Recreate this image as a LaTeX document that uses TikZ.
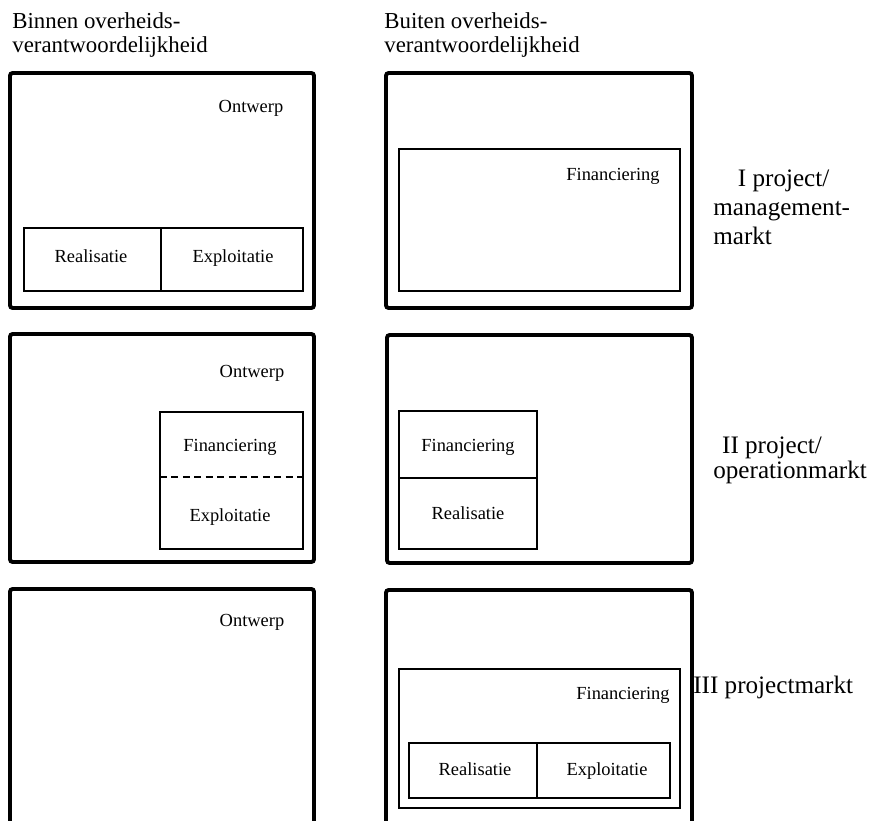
\documentclass[tikz,border=0pt]{standalone}
\usepackage{fontspec}
\setmainfont{Liberation Serif}
\begin{document}
\begin{tikzpicture}[x=0.02cm,y=-0.02cm,
  outer/.style={line width=2.2pt,rounded corners=1.5pt},
  inner/.style={line width=1.1pt},
  head/.style={font=\fontsize{13}{14.2}\selectfont,align=left,anchor=west,inner xsep=0pt},
  market/.style={font=\fontsize{14.3}{16.4}\selectfont,align=left,anchor=west,inner xsep=0pt},
  part/.style={font=\fontsize{10.5}{12}\selectfont,text height=1.6ex,text depth=0.4ex}]
\useasboundingbox (0,0) rectangle (870,821);
\clip (0,0) rectangle (870,821);

\node[head] (binnen) at (12,35) {Binnen overheids-\\verantwoordelijkheid};
\node[head] (buiten) at (384,35) {Buiten overheids-\\verantwoordelijkheid};

% I project/managementmarkt
\draw[outer] (10,73) rectangle (314,308);
\node[part] (ontwerpA) at (251,108) {Ontwerp};
\draw[inner] (24,228) rectangle (303,291);
\draw[inner] (161,228) -- (161,291);
\node[part] (realA) at (91,258) {Realisatie};
\node[part] (explA) at (233,258) {Exploitatie};
\draw[outer] (386,73) rectangle (692,308);
\draw[inner] (399,149) rectangle (680,291);
\node[part] (finA) at (613,176) {Financiering};
\node[market] (marktA) at (713,207) {\hspace{14pt}I project/\\management-\\markt};

% II project/operationmarkt
\draw[outer] (10,334) rectangle (314,562);
\node[part] (ontwerpB) at (252,373) {Ontwerp};
\draw[inner] (160,412) rectangle (303,549);
\draw[inner,dash pattern=on 4pt off 2.5pt] (160,477) -- (303,477);
\node[part] (finB) at (230,447) {Financiering};
\node[part] (explB) at (230,517) {Exploitatie};
\draw[outer] (387,335) rectangle (692,563);
\draw[inner] (399,411) rectangle (537,549);
\draw[inner] (399,478) -- (537,478);
\node[part] (finC) at (468,447) {Financiering};
\node[part] (realC) at (468,515) {Realisatie};
\node[market,font=\fontsize{14.3}{14.2}\selectfont] (marktB) at (713,460) {\hspace{5pt}II project/\\operationmarkt};

% III projectmarkt
\draw[outer] (10,589) rectangle (314,840);
\node[part] (ontwerpD) at (252,622) {Ontwerp};
\draw[outer] (386,590) rectangle (692,840);
\draw[inner] (399,669) rectangle (680,808);
\node[part] (finD) at (623,695) {Financiering};
\draw[inner] (409,743) rectangle (670,798);
\draw[inner] (537,743) -- (537,798);
\node[part] (realD) at (475,771) {Realisatie};
\node[part] (explD) at (607,771) {Exploitatie};
\node[market] (marktD) at (693,687) {III projectmarkt};
\end{tikzpicture}
\end{document}
